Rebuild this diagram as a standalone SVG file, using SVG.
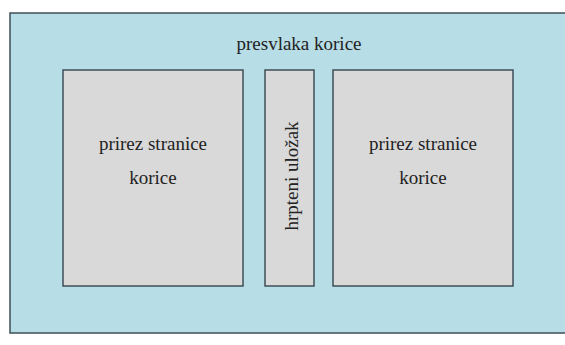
<svg xmlns="http://www.w3.org/2000/svg" width="565" height="345" viewBox="0 0 565 345">
<style>
.outer{fill:#b7dde6;stroke:#3f4f57;stroke-width:1.5}
.box{fill:#d9d9d9;stroke:#3f4f57;stroke-width:1.5}
.t{font-family:"Liberation Serif","Times New Roman",serif;font-size:19px;fill:#222;text-anchor:middle}
</style>
<rect width="565" height="345" fill="#ffffff"/>
<g id="presvlaka">
<rect class="outer" x="10" y="13" width="560" height="320"/>
<text class="t" x="299" y="50">presvlaka korice</text>
</g>
<g id="lijeva">
<rect class="box" x="63" y="70" width="180" height="216"/>
<text class="t" x="153" y="150">prirez stranice</text>
<text class="t" x="153" y="184">korice</text>
</g>
<g id="hrbat">
<rect class="box" x="265" y="70" width="49" height="216"/>
<text class="t" transform="translate(298,176) rotate(-90)">hrpteni uložak</text>
</g>
<g id="desna">
<rect class="box" x="333" y="70" width="180" height="216"/>
<text class="t" x="423" y="150">prirez stranice</text>
<text class="t" x="423" y="184">korice</text>
</g>
<g id="connectors"></g>
</svg>
